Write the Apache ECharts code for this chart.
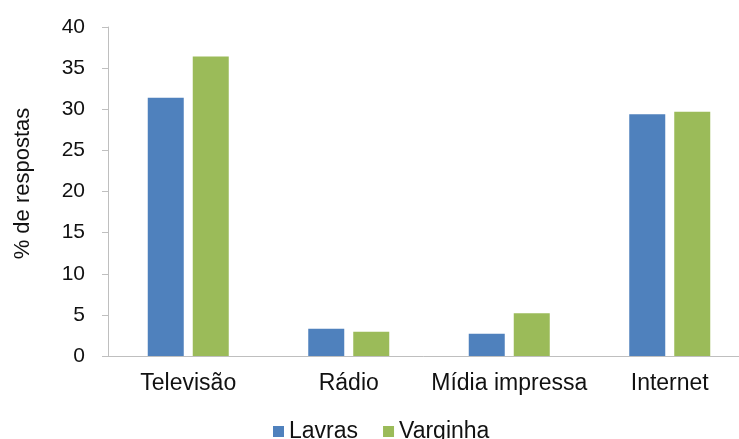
<!DOCTYPE html>
<html>
<head>
<meta charset="utf-8">
<script src="https://cdn.jsdelivr.net/npm/echarts@6/dist/echarts.min.js"></script>
<style>
  html, body { margin: 0; padding: 0; background: #fff; }
  #chart { width: 739px; height: 439px; }
</style>
</head>
<body>
<div id="chart"></div>
<script>
var categories = ['Televisão', 'Rádio', 'Mídia impressa', 'Internet']
var lavras = [31.4, 3.3, 2.7, 29.4]
var varginha = [36.4, 2.95, 5.2, 29.7]
var yTicks = { min: 0, max: 40, interval: 5 }

var myChart = echarts.init(document.getElementById('chart'), null, { renderer: 'canvas' })
var font = "'Liberation Sans', Arial, sans-serif"

var option = {
  animation: false,
  textStyle: { fontFamily: font },
  grid: {
    left: 108,
    top: 27,
    width: 642,
    height: 329,
    containLabel: false,
    outerBoundsMode: 'none'
  },
  legend: {
    data: ['Lavras', 'Varginha'],
    left: 268,
    top: 415,
    itemWidth: 11,
    itemHeight: 11,
    itemGap: 25,
    icon: 'rect',
    textStyle: { fontSize: 23, color: '#111', fontFamily: font }
  },
  xAxis: {
    type: 'category',
    data: categories,
    axisLine: { lineStyle: { color: '#bfbfbf', width: 1 } },
    axisTick: { show: false },
    axisLabel: { interval: 0, fontSize: 23, color: '#111', margin: 16, fontFamily: font }
  },
  yAxis: {
    type: 'value',
    min: yTicks.min,
    max: yTicks.max,
    interval: yTicks.interval,
    name: '% de respostas',
    nameLocation: 'middle',
    nameGap: 74,
    nameRotate: 90,
    nameTextStyle: { fontSize: 22, color: '#111', fontFamily: font, padding: [0, 0, 0, 16] },
    axisLine: { show: true, lineStyle: { color: '#bfbfbf', width: 1 } },
    axisTick: { show: true, length: 6, lineStyle: { color: '#bfbfbf' } },
    splitLine: { show: false },
    axisLabel: { fontSize: 21, color: '#111', margin: 23, fontFamily: font }
  },
  series: [
    {
      name: 'Lavras',
      type: 'bar',
      data: lavras,
      barWidth: 36,
      barGap: '25%',
      itemStyle: { color: '#4f81bd' }
    },
    {
      name: 'Varginha',
      type: 'bar',
      data: varginha,
      barWidth: 36,
      barGap: '25%',
      itemStyle: { color: '#9bbb59' }
    }
  ]
}

myChart.setOption(option)
</script>
</body>
</html>
